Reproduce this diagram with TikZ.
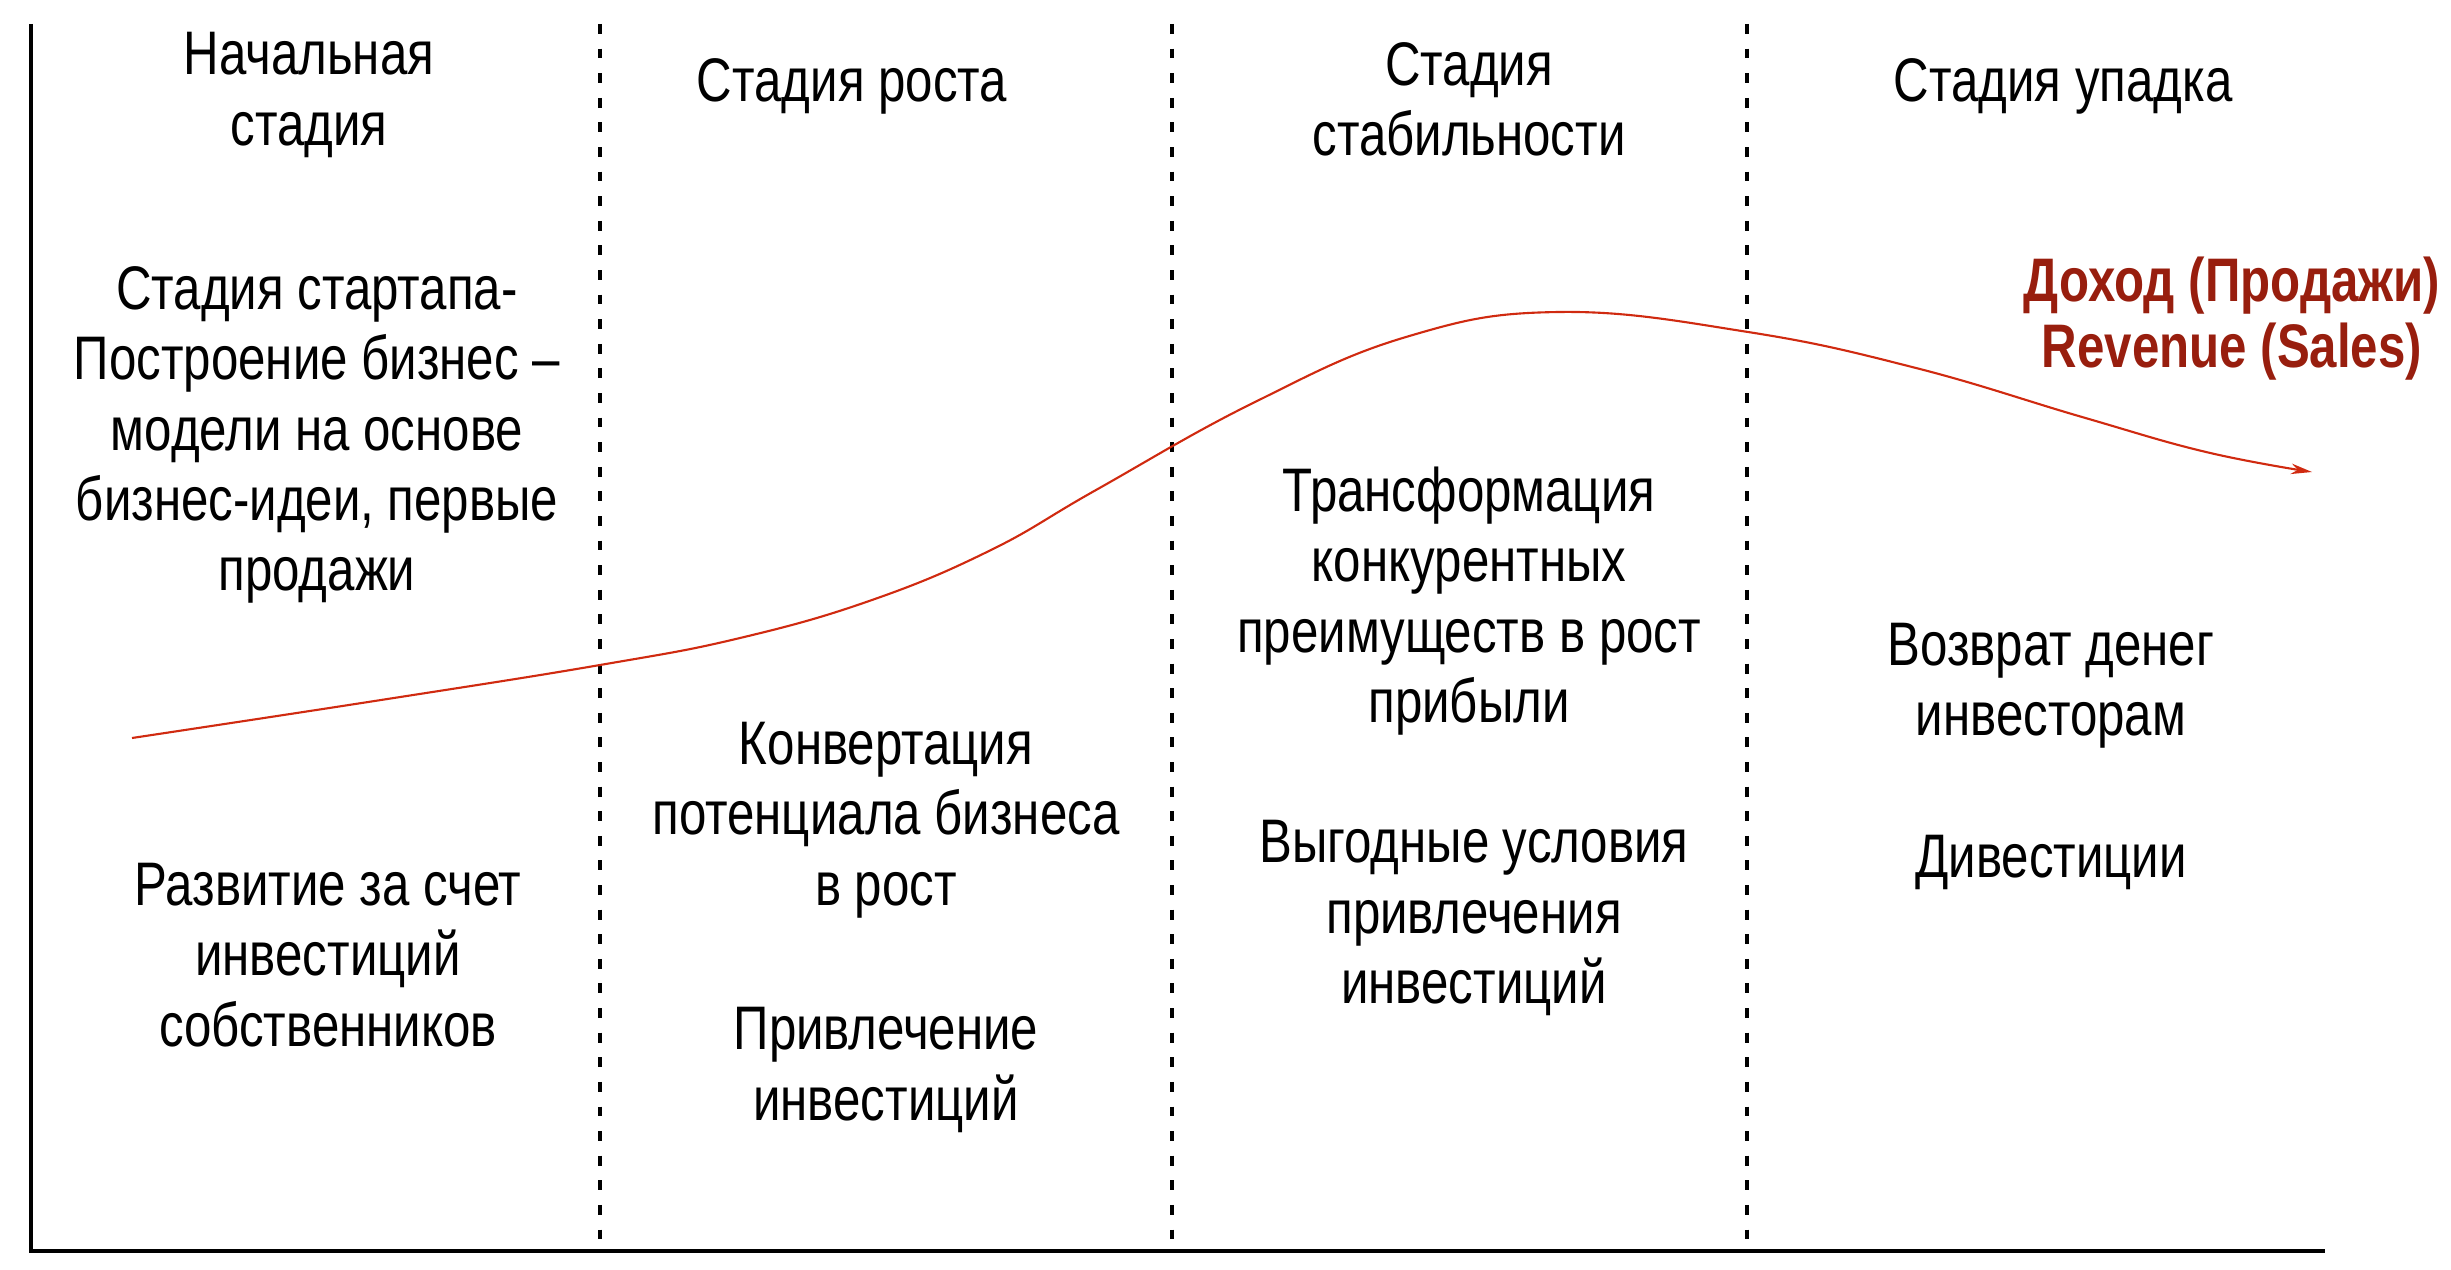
\documentclass[tikz,border=0pt]{standalone}
\usepackage{fontspec}
\setmainfont[FakeStretch=0.80]{Liberation Sans}
\usetikzlibrary{arrows.meta}
\definecolor{revred}{HTML}{981E0E}
\definecolor{curvered}{HTML}{D02A10}

\begin{document}
\begin{tikzpicture}[x=1cm,y=1cm,
    stage/.style={align=center, font=\fontsize{17.5}{20}\selectfont},
    revlabel/.style={align=center, text=revred, font=\fontsize{17.5}{18.8}\selectfont\bfseries},
    axis/.style={line width=1.1pt},
    border/.style={dash pattern=on 2.8pt off 4.2pt, line width=1pt}]
        \useasboundingbox (0,0) rectangle (24.51,12.69);

        % Axes
        \coordinate (O) at (0.31,0.18);
        \coordinate (top) at (0.31,12.45);
        \coordinate (end) at (23.25,0.18);
        \draw[axis] (top) -- (O) -- (end);

        % Stage borders
        \foreach \x/\name in {6.00/b1, 11.72/b2, 17.47/b3} {
            \coordinate (\name top) at (\x,12.45);
            \coordinate (\name bot) at (\x,0.18);
            \draw[border] (\name top) -- (\name bot);
        }

        % Revenue curve
        \draw[curvered, line width=0.6pt, -{Stealth[length=6pt,width=3pt]}]
            plot[smooth, tension=0.7] coordinates {(1.32,5.31) (3.81,5.69) (6.00,6.04)
            (7.40,6.31) (8.72,6.69) (9.91,7.19) (10.96,7.79) (12.53,8.66)
            (14.06,9.32) (15.59,9.57) (17.48,9.37)
            (19.16,9.01) (20.82,8.52) (22.06,8.17) (23.12,7.97)};
        \node[revlabel] (rev) at (22.32,9.50) {Доход (Продажи)\\Revenue (Sales)};

        % Stage headers
        \node[stage] (head1) at (3.09,11.74) {Начальная\\стадия};
        \node[stage] (head2) at (8.52,11.83) {Стадия роста};
        \node[stage] (head3) at (14.69,11.70) {Стадия\\стабильности};
        \node[stage] (head4) at (20.63,11.83) {Стадия упадка};

        % Initial stage
        \node[stage] (start) at (3.17,8.34) {Стадия стартапа-\\Построение бизнес –\\модели на основе\\бизнес-идеи, первые\\продажи};
        \node[stage] (owners) at (3.28,3.14) {Развитие за счет\\инвестиций\\собственников};

        % Growth stage
        \node[stage] (convert) at (8.86,4.49) {Конвертация\\потенциала бизнеса\\в рост};
        \node[stage] (attract) at (8.86,1.99) {Привлечение\\инвестиций};

        % Stability stage
        \node[stage] (transform) at (14.69,6.68) {Трансформация\\конкурентных\\преимуществ в рост\\прибыли};
        \node[stage] (terms) at (14.74,3.51) {Выгодные условия\\привлечения\\инвестиций};

        % Decline stage
        \node[stage] (payback) at (20.51,5.83) {Возврат денег\\инвесторам};
        \node[stage] (divest) at (20.51,4.07) {Дивестиции};
    \end{tikzpicture}
\end{document}
